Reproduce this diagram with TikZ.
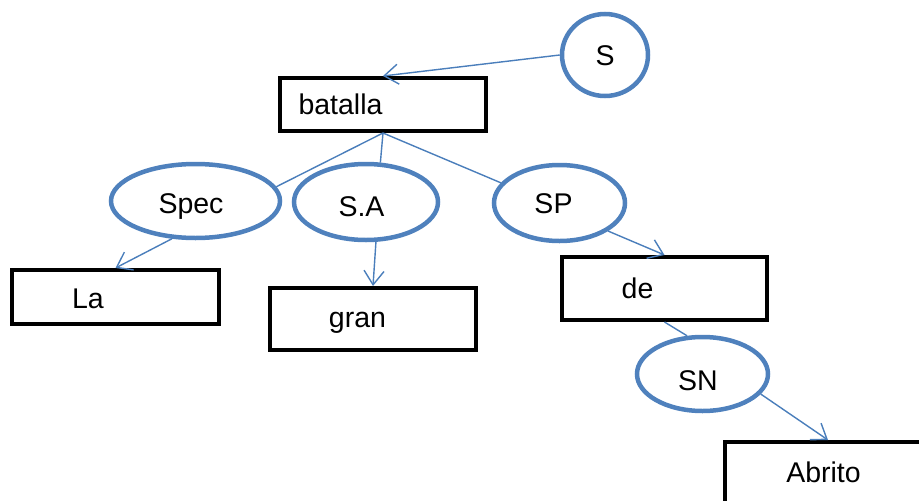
\documentclass[tikz,border=0pt]{standalone}
\usepackage{fontspec}
\setmainfont{Liberation Sans}
\usetikzlibrary{arrows.meta,shapes.geometric}
\definecolor{edgeblue}{HTML}{4A7EBB}
\definecolor{ringblue}{HTML}{4F81BD}
\begin{document}
\begin{tikzpicture}[x=1pt,y=-1pt,
  every node/.style={font=\fontsize{28.5}{32}\selectfont, text=black},
  phrase/.style={ellipse, draw=ringblue, line width=4.5pt, inner sep=0pt,
                 text height=20pt, text depth=0pt},
  word/.style={rectangle, draw=black, line width=4pt, inner sep=0pt,
               minimum width=206pt},
  link/.style={draw=edgeblue, line width=1.4pt},
  tip/.style={link, -{Straight Barb[length=14pt,width=20pt]}}]
\useasboundingbox (0,0) rectangle (919,501);

% phrase nodes (ellipses); the trailing space nudges each label left
\node[phrase, minimum width=86pt, minimum height=82pt] (S) at (605,55) {S};
\node[phrase, minimum width=169pt, minimum height=74pt] (Spec) at (195.5,201) {\raisebox{-2pt}{Spec}\hspace*{9pt}};
\node[phrase, minimum width=144pt, minimum height=76pt] (SA) at (366,202) {\raisebox{-4pt}{S.A}\hspace*{9pt}};
\node[phrase, minimum width=131pt, minimum height=76pt] (SP) at (559.5,203) {SP\hspace*{12pt}};
\node[phrase, minimum width=131pt, minimum height=74pt] (SN) at (702.5,374) {\raisebox{-6pt}{SN}\hspace*{9pt}};

% word nodes (boxes)
\node[word, minimum height=53pt,
      label={[xshift=-42.5pt]center:batalla}] (batalla) at (383,104.5) {};
\node[word, minimum width=207pt, minimum height=54pt,
      label={[xshift=-27.5pt,yshift=-2pt]center:La}] (La) at (115.5,297) {};
\node[word, minimum height=62pt,
      label={[xshift=-15.5pt,yshift=-4pt]center:gran}] (gran) at (373,319) {};
\node[word, minimum width=205pt, minimum height=63pt,
      label={[xshift=-27pt]center:de}] (de) at (664.5,288.5) {};
\node[word, minimum height=63pt,
      label={[xshift=-4.5pt,yshift=1pt]center:Abrito}] (Abrito) at (828,473.5) {};

% connectors
\draw[tip] (S.west) -- (batalla.north);
\draw[link] (batalla.south) -- (Spec.10);
\draw[link] (batalla.south) -- (SA.70);
\draw[link] (batalla.south) -- (SP.161);
\draw[tip] (Spec.238) -- (La.north);
\draw[tip] (SA.284) -- (gran.north);
\draw[tip] (SP.330) -- (de.north);
\draw[link] (de.south) -- (SN.112);
\draw[tip] (SN.341) -- (Abrito.north);
\end{tikzpicture}
\end{document}
